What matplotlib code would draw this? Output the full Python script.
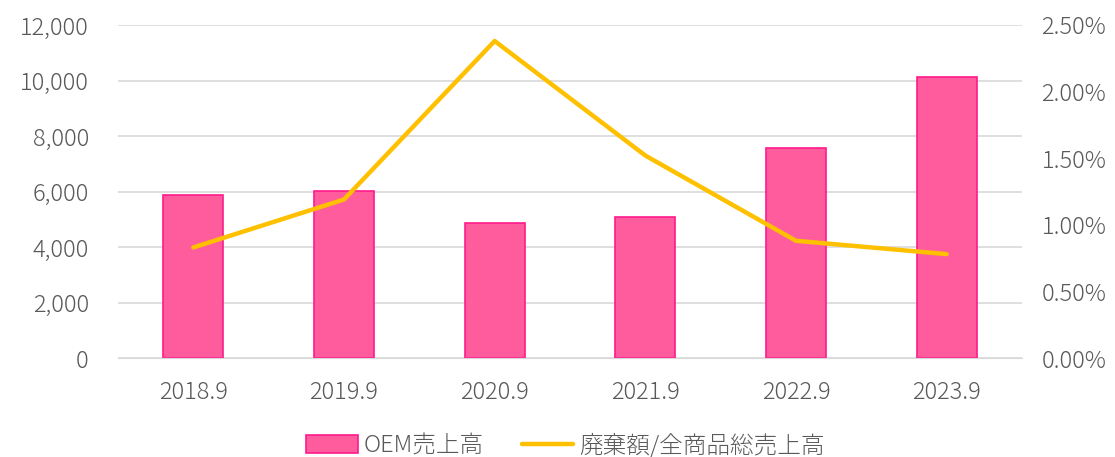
import numpy as np
import matplotlib.pyplot as plt
from matplotlib.ticker import FuncFormatter

plt.rcParams['font.family'] = ['Noto Sans CJK JP', 'DejaVu Sans']
plt.rcParams['font.weight'] = 'light'

years = ["2018.9", "2019.9", "2020.9", "2021.9", "2022.9", "2023.9"]
oem_sales = [5880, 6020, 4870, 5080, 7570, 10130]
waste_ratio = [0.83, 1.19, 2.38, 1.52, 0.88, 0.78]  # percent

gray = "#595959"
fs = 17
fig = plt.figure(figsize=(11.15, 4.57), dpi=100)
ax = fig.add_axes([0.1058, 0.2166, 0.8108, 0.7287])
x = np.arange(len(years))

ax.bar(x, oem_sales, width=0.4, color="#FF5C9D", edgecolor="#FF1A8C", lw=1.2,
       zorder=2, label="OEM売上高")
ax.set_ylim(0, 12000)
ax.set_yticks(np.arange(0, 12001, 2000))
ax.yaxis.set_major_formatter(FuncFormatter(lambda v, p: f"{int(v):,}"))
ax.set_xlim(-0.5, len(years) - 0.5)
ax.set_xticks(x)
ax.set_xticklabels(years)
ax.grid(axis="y", color="#d9d9d9", lw=1.2, zorder=0)
ax.set_axisbelow(True)
for s in ["top", "right", "left"]:
    ax.spines[s].set_visible(False)
ax.spines["bottom"].set_color("#d9d9d9")
ax.tick_params(length=0, labelsize=fs, colors=gray, pad=16)
ax.tick_params(axis="y", pad=21)

ax2 = ax.twinx()
ax2.plot(x, waste_ratio, color="#FFC000", lw=3.2, solid_capstyle="round",
         zorder=3, label="廃棄額/全商品総売上高")
ax2.set_ylim(0, 2.5)
ax2.set_yticks(np.arange(0, 2.51, 0.5))
ax2.yaxis.set_major_formatter(FuncFormatter(lambda v, p: f"{v:.2f}%"))
for s in ax2.spines.values():
    s.set_visible(False)
ax2.tick_params(length=0, labelsize=fs, colors=gray, pad=14)

h1, l1 = ax.get_legend_handles_labels()
h2, l2 = ax2.get_legend_handles_labels()
fig.legend(h1 + h2, l1 + l2, loc="lower center", bbox_to_anchor=(0.507, -0.05),
           ncol=2, frameon=False, fontsize=fs, labelcolor=gray,
           handlelength=2.2, handleheight=0.8, columnspacing=1.6, handletextpad=0.25)

fig.savefig("out.png", dpi=100)
